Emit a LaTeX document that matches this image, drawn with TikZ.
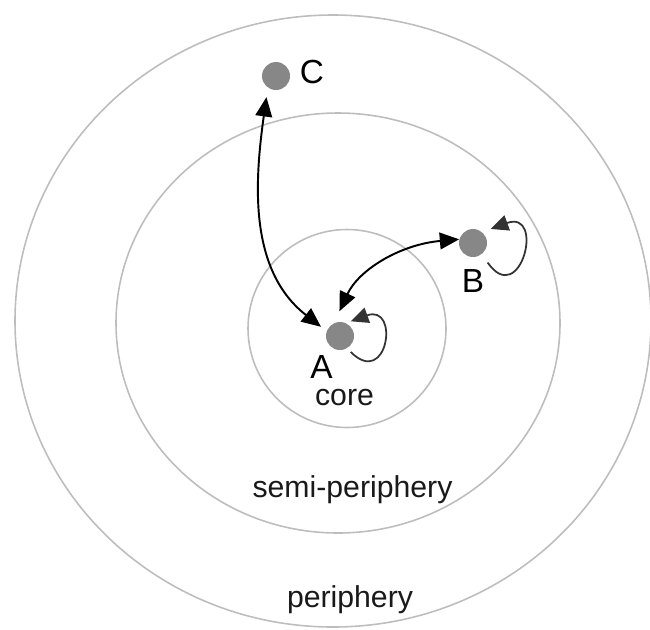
\documentclass[tikz,border=0pt]{standalone}
\usepackage{fontspec}
\setmainfont{Liberation Sans}
\usetikzlibrary{arrows.meta,calc}
\usepackage{tkz-euclide}
\definecolor{RingClr}{rgb}{0.74,0.74,0.74}
\definecolor{DotClr}{rgb}{0.53,0.53,0.53}
\definecolor{LoopClr}{rgb}{0.2,0.2,0.2}

\begin{document}
\begin{tikzpicture}[
  dot/.style={circle,fill=DotClr,minimum size=0.56cm,inner sep=0pt},
  lbl/.style={font=\fontsize{19}{22}\selectfont,anchor=base},
  zone/.style={font=\fontsize{17.2}{20}\selectfont,anchor=base,text=black!90},
  ring/.style={RingClr,line width=0.9pt},
  link/.style={{Triangle[length=11pt,width=9.5pt]}-{Triangle[length=11pt,width=9.5pt]},line width=1.1pt},
  self/.style={-{Triangle[length=10pt,width=9pt]},LoopClr,line width=1pt}]
\useasboundingbox (0,0) rectangle (13,-12.58);

\tkzDefPoints{6.66/-6.42/O,6.76/-6.46/P,6.94/-6.57/Q}

% the three zones
\draw[ring] (O) ellipse [x radius=6.36,y radius=6.12];
\draw[ring] (P) ellipse [x radius=4.44,y radius=4.2];
\draw[ring] (Q) circle (1.98);

\node[zone] (core) at (6.89,-8.1) {core};
\node[zone] (semi) at (7.05,-9.94) {semi-periphery};
\node[zone] (peri) at (7.0,-12.14) {periphery};

% actors
\node[dot] (A) at (6.8,-6.72) {};
\node[dot] (B) at (9.46,-4.86) {};
\node[dot] (C) at (5.52,-1.52) {};
\node[lbl] (la) at (6.43,-7.56) {A};
\node[lbl] (lb) at (9.46,-5.84) {B};
\node[lbl] (lc) at (6.24,-1.66) {C};

% ties
\draw[link,shorten <=0.19cm,shorten >=0.14cm] (C.-125) to[out=-98,in=142] (A.160);
\draw[link,shorten <=0.26cm] (A.115) to[out=65,in=185] (B.165);
\draw[self,shorten <=0.1cm,shorten >=0.1cm] (A.-60) .. controls +(-45:1.15) and +(20:1.15) .. (A.65);
\draw[self,shorten <=0.2cm,shorten >=0.18cm] (B.-52) .. controls +(-55:1.35) and +(20:1.35) .. (B.50);

\end{tikzpicture}
\end{document}
